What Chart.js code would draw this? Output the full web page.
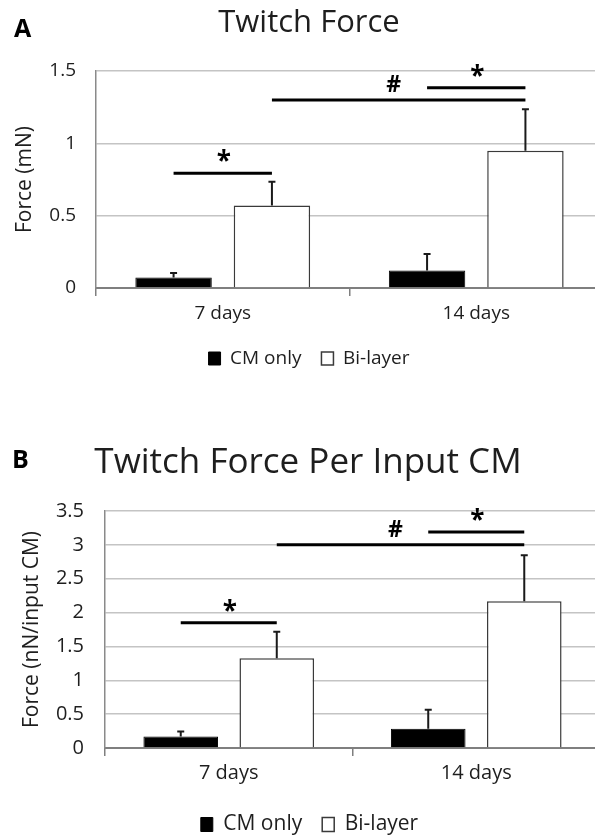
<!DOCTYPE html>
<html>
<head>
<meta charset="utf-8">
<script src="https://cdn.jsdelivr.net/npm/chart.js@4.4.0/dist/chart.umd.min.js"></script>
<style>
  html, body { margin: 0; padding: 0; background: #fff; overflow: hidden; width: 595px; height: 840px; }
  .panel { position: absolute; left: 0; }
  #panelA { top: 0; }
  #panelB { top: 440px; }
</style>
</head>
<body>
<div class="panel" id="panelA"><canvas id="chartA" width="610" height="378"></canvas></div>
<div class="panel" id="panelB"><canvas id="chartB" width="610" height="405"></canvas></div>
<script>
const days = ['7 days', '14 days'];
const seriesNames = ['CM only', 'Bi-layer'];

// A: twitch force (mN)
const forceCM = [0.073, 0.121];
const forceBi = [0.570, 0.948];
const forceCMErr = [0.031, 0.114];
const forceBiErr = [0.164, 0.287];
const forceTicks = [0, 0.5, 1, 1.5];

// B: twitch force per input CM (nN/input CM)
const perCellCM = [0.171, 0.284];
const perCellBi = [1.325, 2.169];
const perCellCMErr = [0.073, 0.280];
const perCellBiErr = [0.392, 0.678];
const perCellTicks = [0, 0.5, 1, 1.5, 2, 2.5, 3, 3.5];

// significance bars: [category, dataset] to [category, dataset], height in axis units
const forceBrackets = [
  { from: [0, 0], to: [0, 1], level: 0.794, mark: '*' },
  { from: [0, 1], to: [1, 1], level: 1.30, mark: '#' },
  { from: [1, 0], to: [1, 1], level: 1.385, mark: '*' }
];
const perCellBrackets = [
  { from: [0, 0], to: [0, 1], level: 1.85, mark: '*' },
  { from: [0, 1], to: [1, 1], level: 3.0, mark: '#' },
  { from: [1, 0], to: [1, 1], level: 3.19, mark: '*' }
];

const FONT = '"Open Sans", sans-serif';
const TEXT = '#1e1e1e';

const figurePlugin = {
  id: 'figureText',
  afterDatasetsDraw(chart, args, opts) {
    const ctx = chart.ctx;
    const y = chart.scales.y;
    ctx.save();

    // error bars (upper only)
    ctx.strokeStyle = '#1a1a1a';
    ctx.lineWidth = 2;
    chart.data.datasets.forEach((ds, di) => {
      chart.getDatasetMeta(di).data.forEach((bar, i) => {
        const top = y.getPixelForValue(ds.data[i] + ds.errors[i]);
        ctx.beginPath();
        ctx.moveTo(bar.x, bar.y);
        ctx.lineTo(bar.x, top);
        ctx.moveTo(bar.x - 3.5, top);
        ctx.lineTo(bar.x + 3.5, top);
        ctx.stroke();
      });
    });

    // significance lines
    opts.brackets.forEach(b => {
      const x1 = chart.getDatasetMeta(b.from[1]).data[b.from[0]].x;
      const x2 = chart.getDatasetMeta(b.to[1]).data[b.to[0]].x;
      const ly = y.getPixelForValue(b.level);
      ctx.strokeStyle = '#000';
      ctx.lineWidth = 3;
      ctx.beginPath();
      ctx.moveTo(x1, ly);
      ctx.lineTo(x2, ly);
      ctx.stroke();

      ctx.fillStyle = '#000';
      ctx.textAlign = 'center';
      ctx.textBaseline = 'alphabetic';
      if (b.mark === '*') {
        ctx.font = 'bold 26px ' + FONT;
        ctx.fillText('*', (x1 + x2) / 2 + 1, ly - 3);
      } else {
        ctx.font = 'bold 23px ' + FONT;
        ctx.fillText(b.mark, (x1 + x2) / 2 - 5, ly - 8);
      }
    });
    ctx.restore();
  },
  afterDraw(chart, args, opts) {
    const ctx = chart.ctx;
    ctx.save();
    ctx.fillStyle = TEXT;
    ctx.textBaseline = 'alphabetic';
    ctx.textAlign = 'center';
    ctx.font = opts.titleSize + 'px ' + FONT;
    ctx.fillText(opts.title, opts.titleX, opts.titleY);
    ctx.textAlign = 'left';
    ctx.fillStyle = '#000';
    ctx.font = 'bold 25px ' + FONT;
    ctx.fillText(opts.letter, opts.letterX, opts.letterY);
    ctx.restore();
  }
};

function makeChart(id, cfg) {
  const ticks = cfg.ticks;
  return new Chart(document.getElementById(id), {
    type: 'bar',
    data: {
      labels: days,
      datasets: [
        { label: seriesNames[0], data: cfg.cm, errors: cfg.cmErr,
          backgroundColor: '#000', borderColor: '#000', borderWidth: 1 },
        { label: seriesNames[1], data: cfg.bi, errors: cfg.biErr,
          backgroundColor: '#fff', borderColor: '#3a3a3a', borderWidth: 1.5 }
      ]
    },
    options: {
      responsive: false,
      animation: false,
      devicePixelRatio: 1,
      layout: { padding: cfg.padding },
      datasets: { bar: { categoryPercentage: 0.776, barPercentage: 0.777 } },
      plugins: {
        legend: {
          position: 'bottom',
          labels: {
            boxWidth: 12, boxHeight: cfg.boxHeight, padding: 20,
            color: TEXT, font: { size: cfg.legendSize }
          }
        },
        title: { display: false },
        tooltip: { enabled: false },
        figureText: {
          brackets: cfg.brackets,
          title: cfg.title, titleSize: cfg.titleSize, titleX: cfg.titleX, titleY: cfg.titleY,
          letter: cfg.letter, letterX: cfg.letterX, letterY: cfg.letterY
        }
      },
      scales: {
        x: {
          afterFit: s => { s.height = cfg.xHeight; },
          grid: { offset: true, drawOnChartArea: false, drawTicks: true, tickLength: 8,
                  color: '#7f7f7f', lineWidth: 1.5 },
          border: { color: '#7f7f7f', width: 2 },
          ticks: { color: TEXT, font: { size: cfg.labelSize }, padding: cfg.xPad }
        },
        y: {
          min: ticks[0],
          max: ticks[ticks.length - 1],
          afterFit: s => { s.width = cfg.yWidth; },
          grid: { color: '#c4c4c4', lineWidth: 1.5, drawTicks: false },
          border: { color: '#8a8a8a', width: 1.5 },
          ticks: { stepSize: ticks[1] - ticks[0], color: TEXT,
                   font: { size: cfg.labelSize }, padding: cfg.yPad,
                   callback: v => String(v) },
          title: { display: true, text: cfg.yTitle, color: TEXT,
                   font: { size: 21, lineHeight: 1 }, padding: { top: cfg.yTitlePad, bottom: 0 } }
        }
      }
    },
    plugins: [figurePlugin]
  });
}

function build() {
  Chart.defaults.font.family = FONT;

  makeChart('chartA', {
    cm: forceCM, bi: forceBi, cmErr: forceCMErr, biErr: forceBiErr,
    ticks: forceTicks, brackets: forceBrackets,
    yTitle: 'Force (mN)',
    title: 'Twitch Force', titleSize: 31, titleX: 309, titleY: 32,
    letter: 'A', letterX: 14, letterY: 37,
    padding: { left: 15, right: 7, top: 71, bottom: 0 },
    yWidth: 81, xHeight: 41, xPad: 6, yPad: 20, yTitlePad: 0,
    labelSize: 19, legendSize: 19, boxHeight: 13
  });

  makeChart('chartB', {
    cm: perCellCM, bi: perCellBi, cmErr: perCellCMErr, biErr: perCellBiErr,
    ticks: perCellTicks, brackets: perCellBrackets,
    yTitle: 'Force (nN/input CM)',
    title: 'Twitch Force Per Input CM', titleSize: 35, titleX: 308, titleY: 33,
    letter: 'B', letterX: 12, letterY: 28,
    padding: { left: 19, right: 10, top: 71, bottom: 0 },
    yWidth: 86, xHeight: 46, xPad: 5, yPad: 21, yTitlePad: 3,
    labelSize: 20, legendSize: 21, boxHeight: 14
  });
}

Promise.all([
  document.fonts.load('20px "Open Sans"'),
  document.fonts.load('bold 20px "Open Sans"')
]).then(build, build);
</script>
</body>
</html>
